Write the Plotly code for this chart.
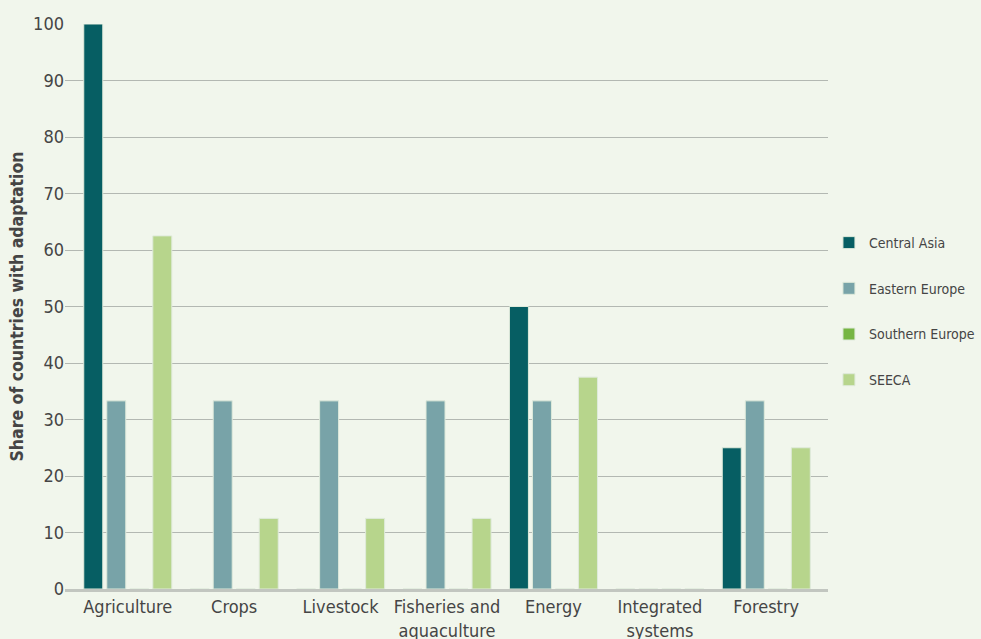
import plotly.graph_objects as go

categories = ["Agriculture", "Crops", "Livestock", "Fisheries and<br>aquaculture", "Energy", "Integrated<br>systems", "Forestry"]
central_asia = [100, 0, 0, 0, 50, 0, 25]
eastern_europe = [33.3, 33.3, 33.3, 33.3, 33.3, 0, 33.3]
southern_europe = [0, 0, 0, 0, 0, 0, 0]
seeca = [62.5, 12.5, 12.5, 12.5, 37.5, 0, 25]
y_ticks = [0, 10, 20, 30, 40, 50, 60, 70, 80, 90, 100]

series = [
    ("Central Asia", central_asia, "#065e63"),
    ("Eastern Europe", eastern_europe, "#78a3a8"),
    ("Southern Europe", southern_europe, "#76b543"),
    ("SEECA", seeca, "#b7d58c"),
]

FONT = "DejaVu Sans Condensed, Roboto Condensed, Liberation Sans Narrow, Roboto, sans-serif"
fig = go.Figure()
for name, vals, col in series:
    fig.add_trace(go.Bar(
        x=categories, y=vals, name=name, legendgroup=name,
        marker=dict(color=col, line=dict(color="#dfeadb", width=1)),
    ))

fig.update_layout(
    width=981, height=639,
    paper_bgcolor="#f1f6ec", plot_bgcolor="#f1f6ec",
    margin=dict(l=65, r=153, t=24, b=50),
    barmode="group", bargap=0.135, bargroupgap=0.174,
    font=dict(family=FONT, color="#454545", size=16),
    showlegend=True,
    legend=dict(xref="container", yref="container", x=0.845, xanchor="left",
                y=0.5125, yanchor="middle",
                font=dict(size=14, color="#454545"), tracegroupgap=24.5,
                bgcolor="rgba(0,0,0,0)"),
    xaxis=dict(range=[-0.59, 6.58], showgrid=False, showline=True, linecolor="#c2c6c0", linewidth=2.5,
               tickfont=dict(size=18, family=FONT), ticks="", automargin=False),
    yaxis=dict(range=[0, 100], tickvals=y_ticks, showgrid=True, gridcolor="#b3b8b2",
               gridwidth=1, zeroline=False, ticks="", tickfont=dict(size=18, family=FONT),
               automargin=False,
               title=dict(text="<b>Share of countries with adaptation</b>",
                          font=dict(size=17.5, family=FONT), standoff=4)),
)
fig.write_html("out.html", config={"displayModeBar": False},
               post_script="document.body.style.margin='0';document.body.style.overflow='hidden';document.body.style.background='#f1f6ec';")
